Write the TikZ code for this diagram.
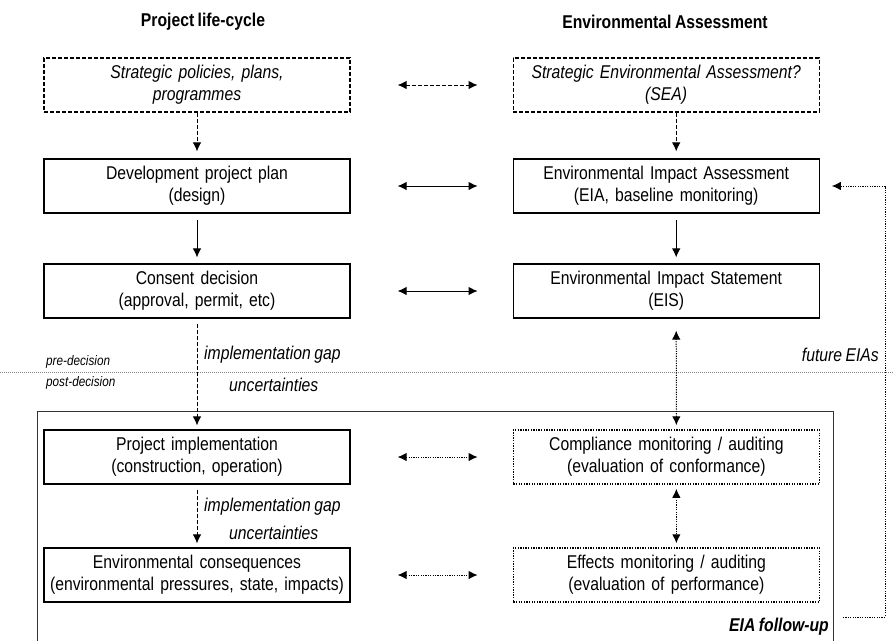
\documentclass[tikz,border=0pt]{standalone}
\usepackage{fontspec}
\setmainfont[FakeStretch=0.85, WordSpace=0.8]{Liberation Sans}
\usetikzlibrary{arrows.meta, positioning}

\begin{document}
\begin{tikzpicture}[
  x=1pt, y=-1pt,
  every node/.style = {font=\fontsize{18.5}{22}\selectfont},
  stage/.style    = {rectangle, draw, line width=1.2pt, text width=296pt, align=center,
                     inner sep=5pt, minimum height=54pt},
  stagedash/.style = {stage, dash pattern=on 4pt off 2pt},
  stagedot/.style  = {stage, line width=1.5pt, dash pattern=on 1.3pt off 1.3pt},
  title/.style  = {font=\fontsize{18.5}{22}\selectfont\bfseries},
  lbl/.style    = {font=\fontsize{18.5}{22}\selectfont\itshape, inner sep=1pt},
  small/.style  = {font=\fontsize{13.8}{16}\selectfont\itshape, inner sep=1pt, anchor=west},
  arr/.style    = {-{Latex[length=9pt,width=8.5pt]}, line width=1pt},
  dasharr/.style = {arr, dash pattern=on 4pt off 2pt},
  dotarr/.style  = {arr, line width=1pt, dash pattern=on 1.2pt off 1.2pt},
  both/.style    = {{Latex[length=9pt,width=8.5pt]}-{Latex[length=9pt,width=8.5pt]}}
]
\useasboundingbox (0,0) rectangle (893,641);

% column headings
\node[title] (hpl) at (203,22) {Project life-cycle};
\node[title] (hea) at (665,22) {Environmental Assessment};

% stages
\node[stagedash] (spp) at (197,85) {\itshape Strategic policies, plans,\\ programmes};
\node[stagedash, right=162pt of spp] (sea) {\itshape Strategic Environmental Assessment?\\ (SEA)};
\node[stage] (dpp) at (197,186) {Development project plan\\ (design)};
\node[stage, right=162pt of dpp] (eia) {Environmental Impact Assessment\\ (EIA, baseline monitoring)};
\node[stage] (cons) at (197,291) {Consent decision\\ (approval, permit, etc)};
\node[stage, right=162pt of cons] (eis) {Environmental Impact Statement\\ (EIS)};
\node[stage] (impl) at (197,457) {Project implementation\\ (construction, operation)};
\node[stagedot, right=162pt of impl] (comp) {Compliance monitoring / auditing\\ (evaluation of conformance)};
\node[stage] (envc) at (197,575) {Environmental consequences\\ (environmental pressures, state, impacts)};
\node[stagedot, right=162pt of envc] (eff) {Effects monitoring / auditing\\ (evaluation of performance)};

% pre / post decision line
\coordinate (sepl) at (0,372); \coordinate (sepr) at (893,372);
\draw[gray, line width=0.6pt, dash pattern=on 1pt off 1pt] (sepl) -- (sepr);
\node[small] (pre)  at (45,362) {pre-decision};
\node[small] (post) at (45,383) {post-decision};

% follow-up frame
\coordinate (fbl) at (37,641); \coordinate (ftl) at (37,411);
\coordinate (ftr) at (833,411); \coordinate (fbr) at (833,641);
\draw[black!80, line width=0.8pt] (fbl) -- (ftl) -- (ftr) -- (fbr);
\node[font=\fontsize{18.5}{22}\selectfont\bfseries\itshape, anchor=east, inner sep=1pt] (fu) at (830,627) {EIA follow-up};

% labels on the arrows
\node[lbl, anchor=west] (gap1) at (203,355) {implementation gap};
\node[lbl, anchor=west] (unc1) at (228,385) {uncertainties};
\node[lbl, anchor=west] (gap2) at (203,507) {implementation gap};
\node[lbl, anchor=west] (unc2) at (228,533) {uncertainties};
\node[lbl, anchor=east] (fut)  at (880,355) {future EIAs};

% vertical arrows
\draw[dasharr, shorten >=7pt] (spp) -- (dpp);
\draw[dasharr, shorten >=7pt] ([xshift=10pt]sea.south) -- ([xshift=10pt]eia.north);
\draw[arr, shorten <=6pt, shorten >=6pt] (dpp) -- (cons);
\draw[arr, shorten <=6pt, shorten >=6pt] ([xshift=10pt]eia.south) -- ([xshift=10pt]eis.north);
\draw[dasharr, shorten <=5pt, shorten >=4pt] (cons) -- (impl);
\draw[dasharr, shorten <=5pt, shorten >=4pt] (impl) -- (envc);
\draw[dotarr, both, shorten <=4pt, shorten >=12pt] ([xshift=10pt]comp.north) -- ([xshift=10pt]eis.south);
\draw[dotarr, both, shorten <=4pt, shorten >=4pt] ([xshift=10pt]comp.south) -- ([xshift=10pt]eff.north);

% horizontal arrows
\draw[dasharr, both, shorten <=47pt, shorten >=35pt] (spp) -- (sea);
\draw[arr, both, shorten <=47pt, shorten >=35pt] (dpp) -- (eia);
\draw[arr, both, shorten <=47pt, shorten >=35pt] (cons) -- (eis);
\draw[dotarr, both, shorten <=47pt, shorten >=35pt] (impl) -- (comp);
\draw[dotarr, both, shorten <=47pt, shorten >=35pt] (envc) -- (eff);

% feedback to future EIAs
\coordinate (loopstart) at (843,617); \coordinate (loopx) at (885,617);
\draw[dotarr, shorten >=12pt] (loopstart) -- (loopx) |- (eia.east);
\end{tikzpicture}
\end{document}
